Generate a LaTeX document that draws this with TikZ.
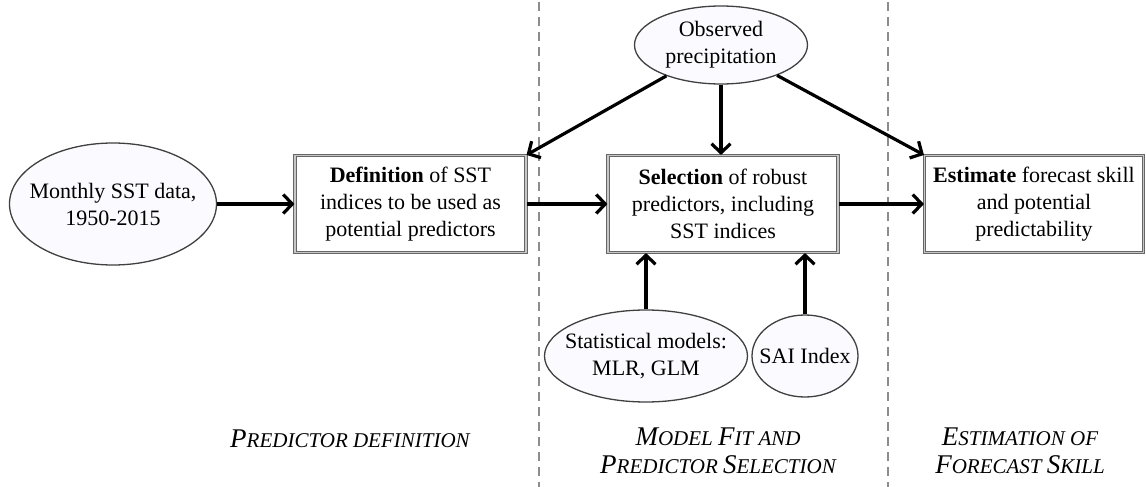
\documentclass[tikz,border=0pt]{standalone}
\usepackage{fontspec}
\setmainfont{Liberation Serif}
\usetikzlibrary{arrows.meta,shapes.geometric}
\newcommand\capbig[1]{{\fontsize{27}{28}\selectfont #1}}
\tikzset{
  every node/.style={font=\fontsize{22}{27}\selectfont},
  stepbox/.style={rectangle, draw=black!60, double=black!22, double distance=1.2pt, line width=1.1pt,
    inner sep=0pt, align=center, minimum height=97pt},
  oval/.style={ellipse, draw=black!75, line width=1.3pt, fill=blue!1.5, inner sep=0pt},
  ovaltext/.style={align=center, inner sep=0pt},
  flow/.style={line width=3.2pt, -{Straight Barb[length=9pt,width=19pt]}},
  sep/.style={draw=black!45, line width=1.3pt, dash pattern=on 9pt off 6pt},
  phase/.style={font=\fontsize{21}{28}\selectfont\itshape, align=center, inner sep=0pt}
}
\begin{document}
\begin{tikzpicture}[x=1pt,y=-1pt]
\useasboundingbox (0,0) rectangle (1146,487);
% separators
\coordinate (s1t) at (539,2);
\coordinate (s1b) at (539,487);
\coordinate (s2t) at (888,2);
\coordinate (s2b) at (888,487);
\draw[sep] (s1t) -- (s1b);
\draw[sep] (s2t) -- (s2b);
% ellipses
\node[oval, minimum width=207pt, minimum height=122pt] (mon) at (113,204) {};
\node[ovaltext] (mon-t) at (mon) {Monthly SST data,\\1950-2015};
\node[oval, minimum width=173pt, minimum height=78pt] (obs) at (721,45) {};
\node[ovaltext] (obs-t) at (obs) {Observed\\precipitation};
\node[oval, minimum width=203pt, minimum height=92pt] (stat) at (646,356) {};
\node[ovaltext] (stat-t) at (stat) {Statistical models:\\MLR, GLM};
\node[oval, minimum width=106pt, minimum height=82pt] (sai) at (805,356) {};
\node[ovaltext] (sai-t) at (sai) {SAI Index};
% boxes
\node[stepbox, minimum width=231pt] (def) at (410.5,204) {\textbf{Definition} of SST\\indices to be used as\\potential predictors};
\node[stepbox, minimum width=230pt] (sel) at (723,204) {\textbf{Selection} of robust\\predictors, including\\SST indices};
\node[stepbox, minimum width=219pt] (est) at (1034,204) {\textbf{Estimate} forecast skill\\and potential\\predictability};
% connectors
\draw[flow] (mon) -- (def);
\draw[flow] (def) -- (sel);
\draw[flow] (sel) -- (est);
\draw[flow] (obs) -- (def.north east);
\draw[flow] (obs) -- (est.north west);
\draw[flow] (obs.south) -- (obs.south |- sel.north);
\draw[flow] (stat.north) -- (stat.north |- sel.south);
\draw[flow] (sai.north) -- (sai.north |- sel.south);
% phase labels
\node[phase] (p1) at (350,439) {\capbig{P}REDICTOR DEFINITION};
\node[phase] (p2) at (718,451) {\capbig{M}ODEL \capbig{F}IT AND\\\capbig{P}REDICTOR \capbig{S}ELECTION};
\node[phase] (p3) at (1020,451) {\capbig{E}STIMATION OF\\\capbig{F}ORECAST \capbig{S}KILL};
\end{tikzpicture}
\end{document}
